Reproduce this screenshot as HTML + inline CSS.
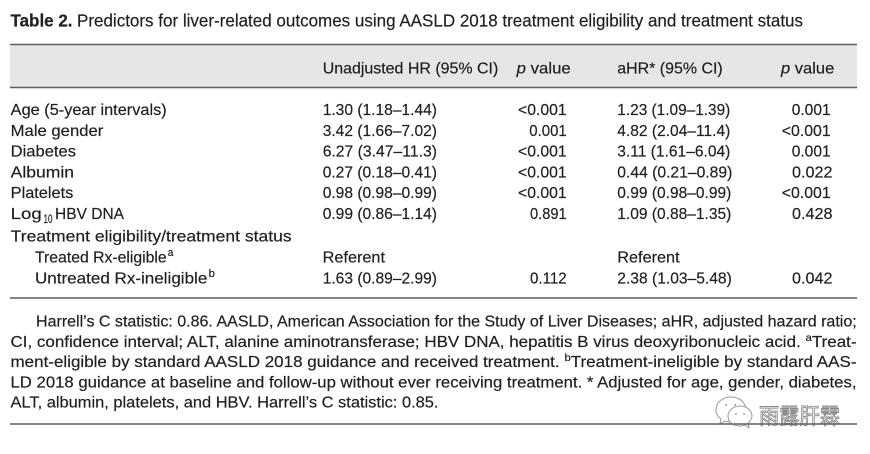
<!DOCTYPE html>
<html>
<head>
<meta charset="utf-8">
<style>
html,body{margin:0;padding:0;background:#fff;}
svg{display:block;}
text{font-family:"Liberation Sans","Noto Sans CJK SC",sans-serif;fill:#231f20;stroke:#231f20;stroke-width:0.2;}
</style>
</head>
<body>
<svg width="870" height="454" viewBox="0 0 870 454" xmlns="http://www.w3.org/2000/svg">
<!-- Title -->
<text x="10.5" y="26.5" font-size="17.5" font-weight="bold" textLength="62" lengthAdjust="spacingAndGlyphs">Table 2.</text>
<text x="77" y="26.5" font-size="17.5" textLength="726" lengthAdjust="spacingAndGlyphs">Predictors for liver-related outcomes using AASLD 2018 treatment eligibility and treatment status</text>

<!-- Header band -->
<rect x="10" y="44.5" width="847" height="43" fill="#e6e6e6"/>
<line x1="10" y1="44.5" x2="857" y2="44.5" stroke="#5e5e5e" stroke-width="1.4"/>
<line x1="10" y1="87.5" x2="857" y2="87.5" stroke="#5e5e5e" stroke-width="1.4"/>

<text x="322.7" y="73.5" font-size="16" textLength="175.6" lengthAdjust="spacingAndGlyphs">Unadjusted HR (95% CI)</text>
<text x="516.7" y="73.5" font-size="16" textLength="54" lengthAdjust="spacingAndGlyphs"><tspan font-style="italic">p</tspan> value</text>
<text x="617.3" y="73.5" font-size="16" textLength="105.4" lengthAdjust="spacingAndGlyphs">aHR*  (95% CI)</text>
<text x="781" y="73.5" font-size="16" textLength="53.3" lengthAdjust="spacingAndGlyphs"><tspan font-style="italic">p</tspan> value</text>

<!-- Row labels -->
<g font-size="16">
<text x="10.7" y="115" textLength="156" lengthAdjust="spacingAndGlyphs">Age (5-year intervals)</text>
<text x="10.7" y="135.8" textLength="92.6" lengthAdjust="spacingAndGlyphs">Male gender</text>
<text x="10.7" y="156.6" textLength="65.3" lengthAdjust="spacingAndGlyphs">Diabetes</text>
<text x="10.7" y="177.4" textLength="63.3" lengthAdjust="spacingAndGlyphs">Albumin</text>
<text x="10.7" y="198.2" textLength="62.6" lengthAdjust="spacingAndGlyphs">Platelets</text>
<text x="10.7" y="219" textLength="31" lengthAdjust="spacingAndGlyphs">Log</text>
<text x="43.5" y="223" font-size="11.5" textLength="9" lengthAdjust="spacingAndGlyphs">10</text>
<text x="55" y="219" textLength="69" lengthAdjust="spacingAndGlyphs">HBV DNA</text>
<text x="10.7" y="241.5" textLength="281" lengthAdjust="spacingAndGlyphs">Treatment eligibility/treatment status</text>
<text x="35" y="262.5" textLength="131.7" lengthAdjust="spacingAndGlyphs">Treated Rx-eligible</text>
<text x="167.7" y="256" font-size="11" textLength="5.6" lengthAdjust="spacingAndGlyphs">a</text>
<text x="35" y="283.3" textLength="172.3" lengthAdjust="spacingAndGlyphs">Untreated Rx-ineligible</text>
<text x="208.7" y="277" font-size="11" textLength="6.3" lengthAdjust="spacingAndGlyphs">b</text>

<!-- Unadjusted HR -->
<text x="322.7" y="115" textLength="114.3" lengthAdjust="spacingAndGlyphs">1.30 (1.18–1.44)</text>
<text x="322.7" y="135.8" textLength="114.3" lengthAdjust="spacingAndGlyphs">3.42 (1.66–7.02)</text>
<text x="322.7" y="156.6" textLength="114.3" lengthAdjust="spacingAndGlyphs">6.27 (3.47–11.3)</text>
<text x="322.7" y="177.4" textLength="114.3" lengthAdjust="spacingAndGlyphs">0.27 (0.18–0.41)</text>
<text x="322.7" y="198.2" textLength="114.3" lengthAdjust="spacingAndGlyphs">0.98 (0.98–0.99)</text>
<text x="322.7" y="219" textLength="114.3" lengthAdjust="spacingAndGlyphs">0.99 (0.86–1.14)</text>
<text x="322.7" y="262.5" textLength="62.3" lengthAdjust="spacingAndGlyphs">Referent</text>
<text x="322.7" y="283.3" textLength="114.3" lengthAdjust="spacingAndGlyphs">1.63 (0.89–2.99)</text>

<!-- p value 1 -->
<text x="518" y="115" textLength="48.7" lengthAdjust="spacingAndGlyphs">&lt;0.001</text>
<text x="529.3" y="135.8" textLength="37.4" lengthAdjust="spacingAndGlyphs">0.001</text>
<text x="518" y="156.6" textLength="48.7" lengthAdjust="spacingAndGlyphs">&lt;0.001</text>
<text x="518" y="177.4" textLength="48.7" lengthAdjust="spacingAndGlyphs">&lt;0.001</text>
<text x="518" y="198.2" textLength="48.7" lengthAdjust="spacingAndGlyphs">&lt;0.001</text>
<text x="530" y="219" textLength="36.7" lengthAdjust="spacingAndGlyphs">0.891</text>
<text x="530" y="283.3" textLength="36.7" lengthAdjust="spacingAndGlyphs">0.112</text>

<!-- aHR -->
<text x="617.3" y="115" textLength="113" lengthAdjust="spacingAndGlyphs">1.23 (1.09–1.39)</text>
<text x="617.3" y="135.8" textLength="113" lengthAdjust="spacingAndGlyphs">4.82 (2.04–11.4)</text>
<text x="617.3" y="156.6" textLength="113" lengthAdjust="spacingAndGlyphs">3.11 (1.61–6.04)</text>
<text x="617.3" y="177.4" textLength="115" lengthAdjust="spacingAndGlyphs">0.44 (0.21–0.89)</text>
<text x="617.3" y="198.2" textLength="114" lengthAdjust="spacingAndGlyphs">0.99 (0.98–0.99)</text>
<text x="617.3" y="219" textLength="114" lengthAdjust="spacingAndGlyphs">1.09 (0.88–1.35)</text>
<text x="617.3" y="262.5" textLength="62.3" lengthAdjust="spacingAndGlyphs">Referent</text>
<text x="617.3" y="283.3" textLength="114.5" lengthAdjust="spacingAndGlyphs">2.38 (1.03–5.48)</text>

<!-- p value 2 -->
<text x="791.7" y="115" textLength="39" lengthAdjust="spacingAndGlyphs">0.001</text>
<text x="781.7" y="135.8" textLength="49" lengthAdjust="spacingAndGlyphs">&lt;0.001</text>
<text x="791.7" y="156.6" textLength="39" lengthAdjust="spacingAndGlyphs">0.001</text>
<text x="792" y="177.4" textLength="40.5" lengthAdjust="spacingAndGlyphs">0.022</text>
<text x="781.7" y="198.2" textLength="49" lengthAdjust="spacingAndGlyphs">&lt;0.001</text>
<text x="792" y="219" textLength="40.5" lengthAdjust="spacingAndGlyphs">0.428</text>
<text x="792" y="283.3" textLength="40.5" lengthAdjust="spacingAndGlyphs">0.042</text>
</g>

<line x1="10" y1="298" x2="857" y2="298" stroke="#5e5e5e" stroke-width="1.4"/>

<!-- Footnotes -->
<g font-size="15.5">
<text x="36" y="326.7" textLength="820.7" lengthAdjust="spacingAndGlyphs">Harrell’s C statistic: 0.86. AASLD, American Association for the Study of Liver Diseases; aHR, adjusted hazard ratio;</text>
<text x="10.5" y="346.9" textLength="846" lengthAdjust="spacingAndGlyphs">CI, confidence interval; ALT, alanine aminotransferase; HBV DNA, hepatitis B virus deoxyribonucleic acid. <tspan dy="-6" font-size="10.5">a</tspan><tspan dy="6">Treat-</tspan></text>
<text x="10.5" y="367.1" textLength="846" lengthAdjust="spacingAndGlyphs">ment-eligible by standard AASLD 2018 guidance and received treatment. <tspan dy="-6" font-size="10.5">b</tspan><tspan dy="6">Treatment-ineligible by standard AAS-</tspan></text>
<text x="10.5" y="387.3" textLength="846" lengthAdjust="spacingAndGlyphs">LD 2018 guidance at baseline and follow-up without ever receiving treatment. * Adjusted for age, gender, diabetes,</text>
<text x="10.5" y="407.5" textLength="428" lengthAdjust="spacingAndGlyphs">ALT, albumin, platelets, and HBV. Harrell’s C statistic: 0.85.</text>
</g>

<!-- Watermark icon -->
<g fill="none" stroke="#9a9a9a" stroke-width="1">
<path d="M731 397 C722 397 716 403 716 410 C716 414 718 417 721 419 L720 424 L725 421 C727 422 729 422 731 422 C740 422 746 416 746 410 C746 403 740 397 731 397 Z" fill="#fff"/>
<path d="M740 406 C733 406 728 411 728 416 C728 422 733 426 740 426 C742 426 743 426 745 425 L749 428 L748 423 C750 421 752 419 752 416 C752 411 747 406 740 406 Z" fill="#fff"/>
</g>
<g fill="#9a9a9a">
<circle cx="726" cy="405" r="1"/>
<circle cx="735" cy="405" r="1"/>
<circle cx="736" cy="414" r="0.9"/>
<circle cx="744" cy="414" r="0.9"/>
</g>
<text x="759" y="424" font-size="22" textLength="81" lengthAdjust="spacingAndGlyphs" style="font-family:'Noto Sans CJK SC','WenQuanYi Zen Hei',sans-serif;fill:#fff;stroke:#8a8a8a;stroke-width:0.9;">雨露肝霖</text>

<line x1="10" y1="424" x2="857" y2="424" stroke="#5e5e5e" stroke-width="1.4"/>
</svg>
</body>
</html>
